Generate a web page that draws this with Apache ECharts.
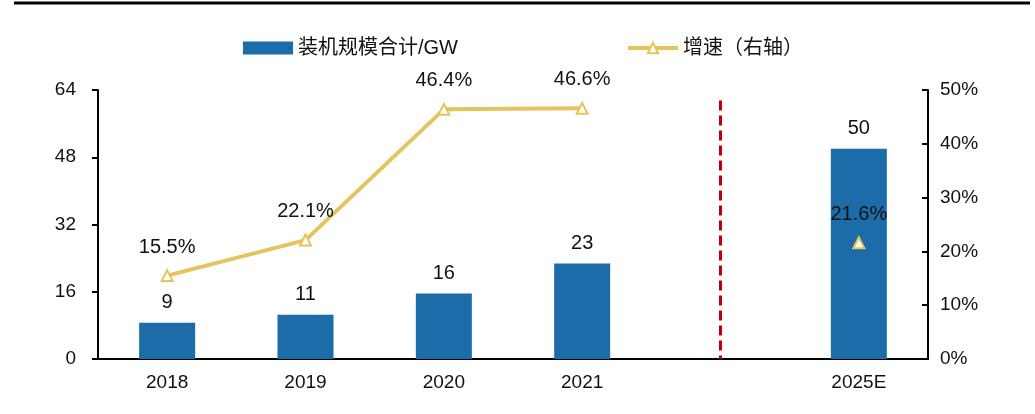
<!DOCTYPE html>
<html>
<head>
    <meta charset="utf-8">
    <script src="https://cdn.jsdelivr.net/npm/echarts@6/dist/echarts.min.js"></script>
</head>
<body style="margin:0;">

<div id="main" style="width:1035px;height:414px;"></div>

<script type="text/javascript">
    // 数据
    var years = ['2018', '2019', '2020', '2021', ' ', '2025E'];
    var capacity = [8.6, 10.5, 15.6, 22.7, null, 50];
    var growth = [15.5, 22.1, 46.4, 46.6, null, 21.6];
    var leftTicks = [0, 16, 32, 48, 64];
    var rightTicks = [0, 10, 20, 30, 40, 50];

    var myChart = echarts.init(document.getElementById('main'));
    var font = 'Liberation Sans, Arial, Noto Sans CJK SC, sans-serif';

    var option = {
        animation: false,
        textStyle: { fontFamily: font },
        graphic: [{
            type: 'line',
            shape: { x1: 14, y1: 3, x2: 1030, y2: 3 },
            style: { stroke: '#000', lineWidth: 3 }
        }],
        legend: {
            top: 33,
            left: 238,
            itemGap: 168,
            itemWidth: 50,
            itemHeight: 13,
            textStyle: { fontSize: 20, color: '#111', fontFamily: font },
            data: [
                { name: '装机规模合计/GW', icon: 'rect' },
                { name: '增速（右轴）', lineStyle: { width: 4 } }
            ]
        },
        grid: { left: 98, right: 107, top: 90, bottom: 55 },
        xAxis: {
            type: 'category',
            data: years,
            axisLine: { lineStyle: { color: '#000', width: 2 } },
            axisTick: { length: 6, lineStyle: { color: '#000', width: 2 } },
            axisLabel: { color: '#111', fontSize: 19, margin: 14 }
        },
        yAxis: [{
            type: 'value',
            min: leftTicks[0],
            max: leftTicks[leftTicks.length - 1],
            interval: 16,
            splitLine: { show: false },
            axisLine: { show: true, lineStyle: { color: '#000', width: 2 } },
            axisTick: { show: true, length: 6, lineStyle: { color: '#000', width: 2 } },
            axisLabel: { color: '#111', fontSize: 19, margin: 22 }
        }, {
            type: 'value',
            min: rightTicks[0],
            max: rightTicks[rightTicks.length - 1],
            interval: 10,
            splitLine: { show: false },
            axisLine: { show: true, lineStyle: { color: '#000', width: 2 } },
            axisTick: { show: true, inside: true, length: 6, lineStyle: { color: '#000', width: 2 } },
            axisLabel: { color: '#111', fontSize: 19, margin: 12, formatter: '{value}%' }
        }],
        series: [{
            name: '装机规模合计/GW',
            type: 'bar',
            data: capacity,
            barWidth: 56,
            itemStyle: { color: '#1B6CA8' },
            label: {
                show: true,
                position: 'top',
                distance: 10,
                fontSize: 20,
                color: '#111',
                formatter: function (p) { return Math.round(p.value); }
            },
            markLine: {
                silent: true,
                symbol: 'none',
                label: { show: false },
                lineStyle: { color: '#C00000', type: [10, 5], width: 3 },
                data: [[{ coord: [' ', 61.5] }, { coord: [' ', 0] }]]
            }
        }, {
            name: '增速（右轴）',
            type: 'line',
            yAxisIndex: 1,
            data: growth,
            connectNulls: false,
            symbol: 'triangle',
            symbolSize: 11,
            lineStyle: { color: '#E5C45E', width: 4 },
            itemStyle: { color: '#fff', borderColor: '#E5C45E', borderWidth: 2 },
            label: {
                show: true,
                position: 'top',
                distance: 12,
                fontSize: 20,
                color: '#111',
                formatter: function (p) { return p.value.toFixed(1) + '%'; }
            },
            z: 3
        }]
    };

    myChart.setOption(option);
</script>

</body>
</html>
